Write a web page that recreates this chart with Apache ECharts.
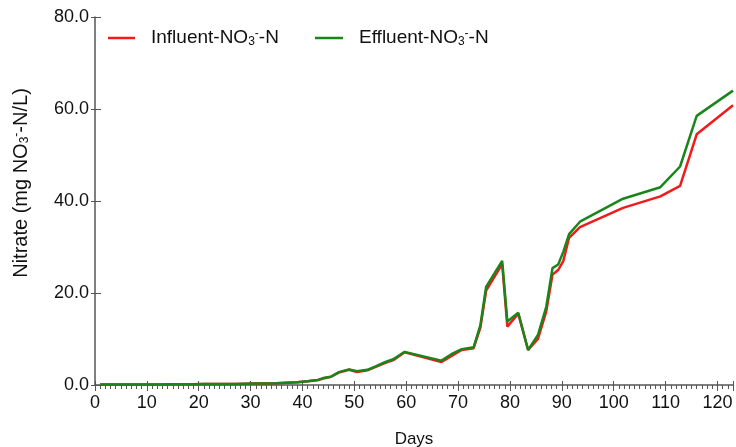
<!DOCTYPE html>
<html>
<head>
<meta charset="utf-8">
<script src="https://cdn.jsdelivr.net/npm/echarts@6/dist/echarts.min.js"></script>
<style>
  html, body { margin: 0; padding: 0; background: #fff; }
  #chart { width: 736px; height: 447px; }
</style>
</head>
<body>
<div id="chart"></div>
<script>
// 采样天数
var days = [1, 3, 5, 7, 9, 11, 13, 15, 17, 19, 21, 23, 25, 27, 29, 31, 33, 35, 37, 39,
    41, 43, 44, 45.5, 47, 49, 50.5, 52.5, 54, 56, 57.5, 59.7, 66.8, 69, 70.7, 73, 74.3,
    75.4, 78.5, 79.5, 81.6, 83.5, 85.4, 87, 88.2, 89.3, 90.3, 91.4, 93.5, 101.8, 109,
    112.8, 116, 123];

// 进水 NO3-N
var influent = [0.1, 0.1, 0.1, 0.1, 0.1, 0.1, 0.1, 0.15, 0.15, 0.15, 0.2, 0.2, 0.2, 0.2, 0.25, 0.3, 0.35, 0.4, 0.5, 0.6,
    0.8, 1.1, 1.4, 1.8, 2.7, 3.3, 2.8, 3.2, 3.9, 4.8, 5.4, 7.1, 5.0, 6.5, 7.6, 8.0, 12.5,
    20.5, 26.3, 12.7, 15.5, 7.6, 10.0, 16.0, 24.0, 25.0, 27.0, 32.0, 34.3, 38.5, 41.0,
    43.3, 54.5, 60.8];

// 出水 NO3-N
var effluent = [0.1, 0.1, 0.1, 0.1, 0.1, 0.1, 0.1, 0.15, 0.15, 0.15, 0.2, 0.2, 0.2, 0.2, 0.25, 0.3, 0.35, 0.4, 0.5, 0.6,
    0.8, 1.1, 1.5, 1.8, 2.8, 3.4, 3.0, 3.3, 4.0, 5.0, 5.6, 7.2, 5.3, 6.9, 7.8, 8.2, 13.0,
    21.3, 27.0, 13.8, 15.7, 7.6, 10.9, 17.0, 25.4, 26.2, 29.0, 32.8, 35.5, 40.5, 43.0,
    47.5, 58.5, 64.0];

var yTicks = [0, 20, 40, 60, 80];

function pairs(vals) {
    return days.map(function (d, i) { return [d, vals[i]]; });
}

var rich = {
    sub: { fontSize: 12, verticalAlign: 'bottom', padding: [6, 0, 0, 0], fontFamily: 'Liberation Sans', color: '#111' },
    sup: { fontSize: 12, verticalAlign: 'top', padding: [0, 0, 8, 0], fontFamily: 'Liberation Sans', color: '#111' }
};

var axisColor = '#555';
var legendText = { fontSize: 19, color: '#111', fontFamily: 'Liberation Sans', rich: rich, padding: [0, 0, 0, 11] };
function legendName(name) { return name + '-NO{sub|3}{sup|-}-N'; }

var myChart = echarts.init(document.getElementById('chart'));
myChart.setOption({
    animation: false,
    textStyle: { fontFamily: 'Liberation Sans' },
    grid: { left: 95, right: 3, top: 17, bottom: 62, outerBoundsMode: 'none' },
    legend: [
        {
            left: 103, top: 23, itemWidth: 27, itemHeight: 2.5, icon: 'rect',
            data: ['Influent'], formatter: legendName, textStyle: legendText
        },
        {
            left: 310, top: 23, itemWidth: 28, itemHeight: 2.5, icon: 'rect',
            data: ['Effluent'], formatter: legendName, textStyle: legendText
        }
    ],
    xAxis: [
        {
            type: 'value',
            min: 0,
            max: 123,
            interval: 10,
            name: 'Days',
            nameLocation: 'middle',
            nameGap: 46,
            nameTextStyle: { fontSize: 17, color: '#111' },
            splitLine: { show: false },
            axisLine: { onZero: false, lineStyle: { color: axisColor, width: 1.5 } },
            axisTick: { length: 6, lineStyle: { color: axisColor } },
            minorTick: { show: true, splitNumber: 10, length: 4, lineStyle: { color: axisColor } },
            axisLabel: {
                fontSize: 18, color: '#111', margin: 9,
                formatter: function (v) { return v % 10 === 0 ? String(v) : ''; }
            }
        },
        {
            // 刻度穿过轴线（内侧部分）
            type: 'value', min: 0, max: 123, interval: 10, position: 'bottom',
            splitLine: { show: false },
            axisLine: { show: false, onZero: false },
            axisTick: { inside: true, length: 4, lineStyle: { color: axisColor } },
            axisLabel: { show: false }
        }
    ],
    yAxis: [
        {
            type: 'value',
            min: yTicks[0],
            max: yTicks[yTicks.length - 1],
            interval: 20,
            name: 'Nitrate (mg NO{sub|3}{sup|-}-N/L)',
            nameLocation: 'middle',
            nameGap: 64,
            nameTextStyle: { fontSize: 20, color: '#111', rich: rich, padding: [0, 0, 0, 36] },
            splitLine: { show: false },
            axisLine: { show: true, lineStyle: { color: axisColor, width: 1.5 } },
            axisTick: { show: true, length: 4, lineStyle: { color: axisColor } },
            axisLabel: {
                fontSize: 18, color: '#111', margin: 6,
                formatter: function (v) { return v.toFixed(1); }
            }
        },
        {
            type: 'value', min: 0, max: 80, interval: 20, position: 'left',
            splitLine: { show: false },
            axisLine: { show: false },
            axisTick: { show: true, inside: true, length: 6, lineStyle: { color: axisColor } },
            axisLabel: { show: false }
        }
    ],
    series: [
        {
            name: 'Influent',
            type: 'line',
            data: pairs(influent),
            showSymbol: false,
            color: '#f21a1a',
            lineStyle: { width: 2.5 }
        },
        {
            name: 'Effluent',
            type: 'line',
            data: pairs(effluent),
            showSymbol: false,
            color: '#1a851a',
            lineStyle: { width: 2.5 }
        }
    ]
});
</script>
</body>
</html>
